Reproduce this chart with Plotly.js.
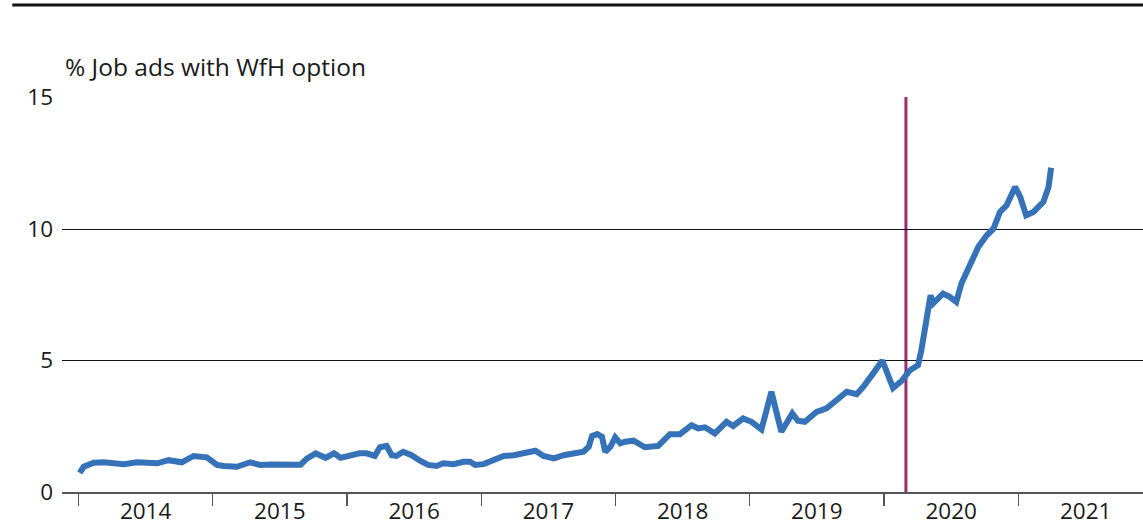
<!DOCTYPE html>
<html>
<head>
<meta charset="utf-8">
<script src="https://cdn.plot.ly/plotly-3.0.1.min.js"></script>
<style>html,body{margin:0;padding:0;background:#fff;}#chart{width:1143px;height:526px;}</style>
</head>
<body>
<div id="chart"></div>
<script>
const dates = [
"2014-01-04","2014-01-15","2014-02-11","2014-03-10","2014-05-04","2014-06-09","2014-08-03","2014-09-03","2014-10-09","2014-11-10","2014-12-16",
"2015-01-13","2015-01-31","2015-03-08","2015-04-13","2015-05-10","2015-06-07","2015-07-04","2015-07-31","2015-08-28","2015-09-15","2015-10-08","2015-11-04","2015-11-27","2015-12-15",
"2016-01-10","2016-02-04","2016-02-24","2016-03-17","2016-03-31","2016-04-18","2016-05-02","2016-05-15","2016-06-02","2016-06-25","2016-07-18","2016-08-09","2016-09-01","2016-09-19","2016-10-17","2016-11-13","2016-12-01","2016-12-15",
"2017-01-07","2017-02-03","2017-03-03","2017-03-30","2017-04-27","2017-05-28","2017-06-19","2017-07-17","2017-08-13","2017-09-09","2017-10-06","2017-10-20","2017-10-29","2017-11-12","2017-11-25","2017-12-04","2017-12-18","2017-12-31",
"2018-01-14","2018-01-27","2018-02-19","2018-03-22","2018-04-27","2018-05-29","2018-06-25","2018-07-27","2018-08-14","2018-09-01","2018-09-28","2018-10-30","2018-11-17","2018-12-14",
"2019-01-06","2019-02-02","2019-03-01","2019-03-28","2019-04-11","2019-04-27","2019-05-12","2019-05-31","2019-07-02","2019-07-29","2019-08-25","2019-09-22","2019-10-19","2019-11-06","2019-12-03","2019-12-28",
"2020-01-26","2020-02-18","2020-03-12","2020-04-03","2020-04-12","2020-04-26","2020-05-07","2020-05-14","2020-06-10","2020-06-28","2020-07-16","2020-07-30","2020-08-22","2020-09-14","2020-10-07","2020-10-25","2020-11-12","2020-11-30","2020-12-23",
"2021-01-06","2021-01-22","2021-02-11","2021-03-10","2021-03-24","2021-03-31"
];
const wfhShare = [
0.73,0.96,1.11,1.13,1.06,1.13,1.09,1.21,1.13,1.37,1.32,
1.03,0.99,0.96,1.13,1.03,1.05,1.03,1.05,1.04,1.28,1.47,1.30,1.47,1.30,
1.40,1.47,1.47,1.37,1.70,1.75,1.40,1.37,1.53,1.40,1.19,1.03,0.99,1.09,1.06,1.15,1.15,1.03,
1.06,1.24,1.37,1.40,1.47,1.57,1.37,1.28,1.40,1.49,1.53,1.72,2.13,2.20,2.10,1.53,1.72,2.08,
1.85,1.91,1.95,1.70,1.75,2.20,2.20,2.54,2.42,2.46,2.23,2.67,2.51,2.80,
2.67,2.38,3.81,2.29,2.61,2.99,2.71,2.67,3.05,3.18,3.49,3.81,3.72,4.00,4.51,5.00,
3.95,4.22,4.63,4.82,5.39,6.53,7.48,7.17,7.54,7.42,7.23,7.93,8.68,9.32,9.76,10.01,10.65,10.90,11.60,
11.22,10.52,10.65,11.03,11.60,12.33
];
const yTitle = "% Job ads with WfH option";
const markerDate = "2020-03-01";
const yTicks = [0, 5, 10, 15];

const FONT = "'Open Sans', 'Noto Sans', sans-serif";
const trace = {
  x: dates, y: wfhShare, type: "scatter", mode: "lines",
  line: {color: "#3572b7", width: 6, shape: "linear"},
  hoverinfo: "x+y"
};
const layout = {
  width: 1143, height: 526,
  margin: {l: 62, r: 0, t: 97, b: 34},
  paper_bgcolor: "#fff", plot_bgcolor: "#fff",
  font: {family: FONT, size: 22, color: "#1a1a1a"},
  showlegend: false,
  xaxis: {
    type: "date",
    range: ["2013-11-17", "2021-12-06"],
    tick0: "2014-01-01", dtick: "M12",
    ticklabelmode: "period", tickformat: "%Y",
    ticks: "outside", ticklen: 12, tickwidth: 1.5, tickcolor: "#555",
    ticklabelstandoff: -14,
    showline: true, linecolor: "#555", linewidth: 1.5,
    showgrid: false, zeroline: false,
    tickfont: {family: FONT, size: 22.5, color: "#1a1a1a"}
  },
  yaxis: {
    range: [0, 15.02],
    tickvals: yTicks,
    showgrid: true, gridcolor: "#111", gridwidth: 1,
    zeroline: false, showline: false, ticks: "",
    ticklabelstandoff: 8,
    tickfont: {family: FONT, size: 22.5, color: "#1a1a1a"}
  },
  shapes: [
    {type: "line", xref: "x", yref: "paper", x0: markerDate, x1: markerDate, y0: 0, y1: 1,
     line: {color: "#9a2c6e", width: 3}, layer: "between"},
    {type: "line", xref: "paper", yref: "paper", x0: -0.046, x1: 1, y0: 1.233, y1: 1.233,
     line: {color: "#111", width: 3}}
  ],
  annotations: [
    {text: yTitle, xref: "paper", yref: "paper", x: 0.001, y: 1.078,
     xanchor: "left", yanchor: "middle", showarrow: false,
     font: {family: FONT, size: 24.5, color: "#1a1a1a"}}
  ]
};
Plotly.newPlot("chart", [trace], layout, {displayModeBar: false, staticPlot: true});
</script>
</body>
</html>
